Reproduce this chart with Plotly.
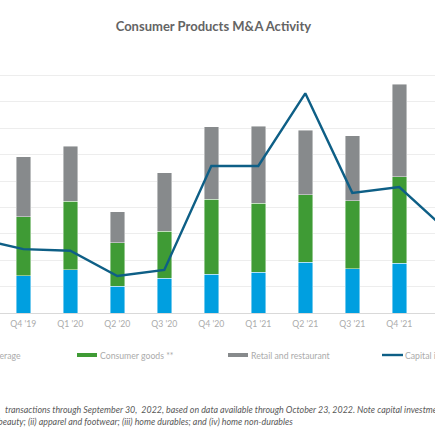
import plotly.graph_objects as go

# ---------------- data ----------------
quarters = ["Q3 '19", "Q4 '19", "Q1 '20", "Q2 '20", "Q3 '20", "Q4 '20",
            "Q1 '21", "Q2 '21", "Q3 '21", "Q4 '21", "Q1 '22"]
food_bev = [None, 142, 164, 101, 131, 146, 155, 193, 167, 188, None]
consumer_goods = [None, 223, 259, 166, 178, 284, 260, 254, 258, 329, None]
retail_rest = [None, 227, 208, 117, 222, 275, 292, 245, 247, 349, None]
capital_inv = [28.3, 24.2, 23.6, 14.0, 16.3, 55.7, 55.7, 83.2, 45.5, 47.7, 31.5]

series_names = ["Food and beverage", "Consumer goods **", "Retail and restaurant",
                "Capital investment"]
title_text = "Consumer Products M&A Activity"
footnote_1 = ("transactions through September 30,  2022, based on data available "
              "through October 23, 2022. Note capital investment")
footnote_2 = ("beauty; (ii) apparel and footwear; (iii) home durables; "
              "and (iv) home non-durables")

# ---------------- style ----------------
BLUE = "#009FE0"
GREEN = "#3F9B35"
GRAY = "#878A8C"
LINE = "#0E5F86"
FONT = "Lato"
W = H = 435
T, B = 49, 122


def px2x(px):
    return px / W


def py2y(py):
    return (H - B - py) / (H - T - B)


fig = go.Figure()
edge = dict(color="rgba(255,255,255,0.55)", width=0.8)
for vals, name, col in [(food_bev, series_names[0], BLUE),
                        (consumer_goods, series_names[1], GREEN),
                        (retail_rest, series_names[2], GRAY)]:
    fig.add_trace(go.Bar(x=quarters, y=vals, name=name, marker_color=col,
                         marker_line=edge, width=0.31, showlegend=False))

fig.add_trace(go.Scatter(x=quarters, y=capital_inv, name=series_names[3],
                         mode="lines", line=dict(color=LINE, width=2.4),
                         yaxis="y2", showlegend=False))

# ---------------- manual legend ----------------
legend_items = [(-75, series_names[0], BLUE, "bar"),
                (77, series_names[1], GREEN, "bar"),
                (228, series_names[2], GRAY, "bar"),
                (382, series_names[3], LINE, "line")]
shapes = []
annotations = []
LEG_Y = 355
for x0, name, col, kind in legend_items:
    if kind == "bar":
        shapes.append(dict(type="rect", xref="paper", yref="paper",
                           x0=px2x(x0), x1=px2x(x0 + 20),
                           y0=py2y(LEG_Y + 2), y1=py2y(LEG_Y - 2),
                           fillcolor=col, line=dict(width=0)))
    else:
        shapes.append(dict(type="line", xref="paper", yref="paper",
                           x0=px2x(x0), x1=px2x(x0 + 21),
                           y0=py2y(LEG_Y), y1=py2y(LEG_Y),
                           line=dict(color=col, width=2.4)))
    annotations.append(dict(text=name, xref="paper", yref="paper",
                            x=px2x(x0 + 21), y=py2y(LEG_Y), xanchor="left",
                            yanchor="middle", showarrow=False,
                            font=dict(family=FONT, size=8.7, color="#ABABAB")))

annotations.append(dict(text="<i>" + footnote_1 + "</i>", xref="paper", yref="paper",
                        x=px2x(3), y=py2y(409), xanchor="left", yanchor="middle",
                        showarrow=False,
                        font=dict(family=FONT, size=8.9, color="#595959")))
annotations.append(dict(text="<i>" + footnote_2 + "</i>", xref="paper", yref="paper",
                        x=px2x(-4.5), y=py2y(421), xanchor="left", yanchor="middle",
                        showarrow=False,
                        font=dict(family=FONT, size=8.9, color="#595959")))

fig.update_layout(
    width=W, height=H,
    margin=dict(l=0, r=0, t=T, b=B, pad=0),
    paper_bgcolor="white", plot_bgcolor="white",
    barmode="stack",
    title=dict(text="<b>" + title_text + "</b>", x=213.4 / W, xanchor="center",
               y=1 - 26 / H, yanchor="middle",
               font=dict(family=FONT, size=13, color="#646464")),
    xaxis=dict(type="category", categoryorder="array", categoryarray=quarters,
               range=[0.504, 9.76], showgrid=False, showline=True,
               linecolor="#D9D9D9", linewidth=1, ticks="", ticklabelstandoff=3,
               tickfont=dict(family=FONT, size=8.7, color="#ABABAB")),
    yaxis=dict(range=[0, 1000], dtick=100, showgrid=True, gridcolor="#EDEDED",
               gridwidth=1, showticklabels=False, zeroline=False),
    yaxis2=dict(range=[0, 100], overlaying="y", side="right", showgrid=False,
                showticklabels=False, zeroline=False),
    shapes=shapes,
    annotations=annotations,
    showlegend=False,
)

fig.write_html("out.html",
               config={"displayModeBar": False},
               post_script="document.body.style.margin='0';"
                           "document.body.style.overflow='hidden';")
